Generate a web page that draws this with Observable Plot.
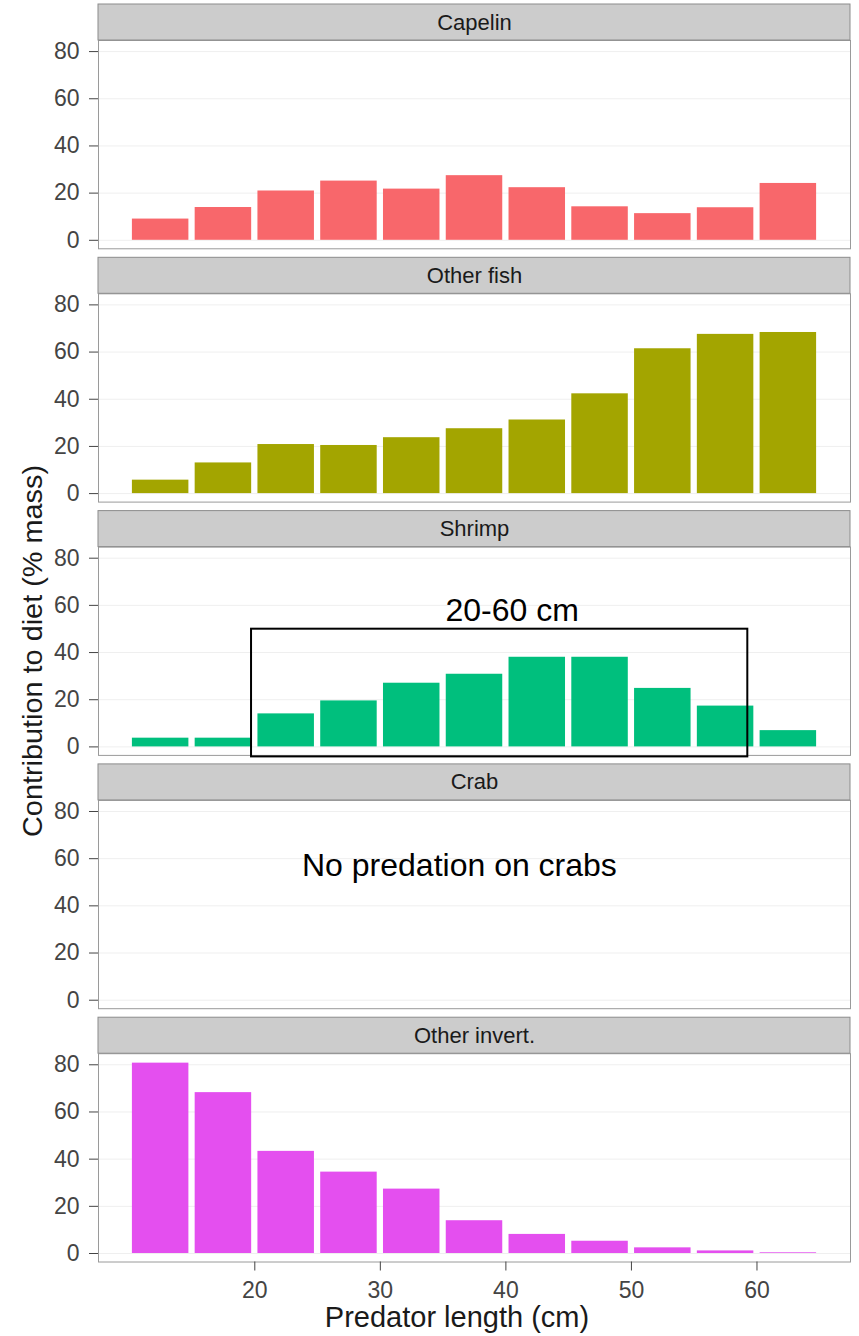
<!DOCTYPE html>
<html><head><meta charset="utf-8">
<script src="https://cdn.jsdelivr.net/npm/d3@7"></script>
<script src="https://cdn.jsdelivr.net/npm/@observablehq/plot@0.6"></script>
<style>body{margin:0;background:#fff} #chart svg{display:block}</style>
</head><body><div id="chart"></div>
<script>
// Prey categories (facets)
const categories = ["Capelin", "Other fish", "Shrimp", "Crab", "Other invert."];
// Predator length bins (cm, bin midpoints)
const lengthMid = [12.5, 17.5, 22.5, 27.5, 32.5, 37.5, 42.5, 47.5, 52.5, 57.5, 62.5];
// Contribution to diet (% mass) per bin
const capelin     = [9.0, 13.9, 20.9, 25.1, 21.7, 27.4, 22.3, 14.2, 11.3, 13.8, 24.1];
const otherFish   = [5.7, 13.0, 20.8, 20.4, 23.7, 27.5, 31.2, 42.3, 61.4, 67.5, 68.3];
const shrimp      = [3.7, 3.7, 14.0, 19.5, 27.0, 30.8, 38.0, 38.0, 24.8, 17.3, 6.9];
const crab        = [0, 0, 0, 0, 0, 0, 0, 0, 0, 0, 0];
const otherInvert = [80.7, 68.2, 43.3, 34.5, 27.3, 13.9, 8.1, 5.2, 2.4, 1.1, 0.3];
const seriesColors = ["#F8676B", "#A3A500", "#00BF7D", "#00B0F6", "#E44FEF"];
// Axis ticks
const xTicks = [20, 30, 40, 50, 60];
const yTicks = [0, 20, 40, 60, 80];
// Annotations
const boxNotes = [{category: "Shrimp", x1: 19.74, x2: 59.27, y1: -4.24, y2: 49.9}];
const textNotes = [
  {category: "Shrimp", x: 40.5, y: 57.7, text: "20-60 cm"},
  {category: "Crab", x: 36.3, y: 56.8, text: "No predation on crabs"}
];

const series = [capelin, otherFish, shrimp, crab, otherInvert];
const rows = categories.flatMap((c, i) =>
  lengthMid.map((m, j) => ({category: c, mid: m, value: series[i][j]}))
).filter(d => d.value > 0);

const W = 859, H = 1336, mT = 40, mB = 74.5, mL = 98, mR = 9;
const padInner = 0.1777;
const step = (H - mT - mB) / (categories.length - padInner);
const band = step * (1 - padInner);
const stripH = 36;
const font = "'Liberation Sans', Arial, Helvetica, sans-serif";

const chart = Plot.plot({
  width: W, height: H,
  marginTop: mT, marginBottom: mB, marginLeft: mL, marginRight: mR,
  style: {fontFamily: font, background: "#fff", color: "#333"},
  x: {domain: [7.55, 67.45]},
  y: {domain: [-3.6, 84.7]},
  fy: {domain: categories, paddingInner: padInner, paddingOuter: 0, round: false, axis: null, label: null},
  color: {domain: categories, range: seriesColors},
  marks: [
    Plot.gridY(yTicks, {stroke: "#efefef", strokeOpacity: 1}),
    Plot.rectY(rows, {fy: "category", x1: d => d.mid - 2.25, x2: d => d.mid + 2.25, y1: 0, y2: "value", fill: "category"}),
    Plot.frame({stroke: "#9a9a9a"}),
    Plot.rect(categories, {fy: d => d, fill: "#cccccc", stroke: "#8c8c8c", insetTop: -stripH, insetBottom: band}),
    Plot.text(categories, {fy: d => d, text: d => d, frameAnchor: "top", dy: -stripH / 2, lineAnchor: "middle", fontSize: 22, fill: "#1a1a1a"}),
    Plot.axisY(yTicks, {tickSize: 9, tickPadding: 10, fontSize: 23, label: null, color: "#444"}),
    Plot.axisX(xTicks, {tickSize: 9, tickPadding: 11, fontSize: 23, label: null, color: "#444"}),
    Plot.rect(boxNotes, {fy: "category", x1: "x1", x2: "x2", y1: "y1", y2: "y2", fill: "none", stroke: "black", strokeWidth: 2}),
    Plot.text(textNotes, {fy: "category", x: "x", y: "y", text: "text", fontSize: 32, fill: "black", lineAnchor: "middle"})
  ]
});

const svg = d3.select(chart);
svg.append("text")
  .attr("transform", "translate(32,651) rotate(-90)")
  .attr("text-anchor", "middle")
  .attr("dominant-baseline", "central")
  .attr("font-size", 28)
  .attr("fill", "#1a1a1a")
  .attr("textLength", 372)
  .attr("lengthAdjust", "spacingAndGlyphs")
  .text("Contribution to diet (% mass)");
svg.append("text")
  .attr("x", 457).attr("y", 1327)
  .attr("text-anchor", "middle")
  .attr("font-size", 29)
  .attr("fill", "#1a1a1a")
  .text("Predator length (cm)");

document.getElementById("chart").appendChild(chart);
</script>
</body></html>
